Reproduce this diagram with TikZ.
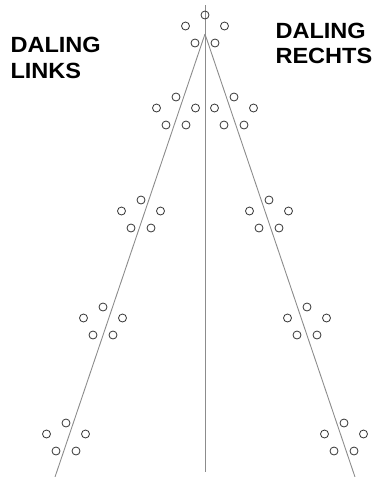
\documentclass[tikz,border=0pt]{standalone}
\usepackage{fontspec}
\setmainfont{Liberation Sans}
\begin{document}
\begin{tikzpicture}[x=1pt,y=-1pt,
  axisline/.style={draw=black!45,line width=0.9pt},
  ring/.style={circle,draw=black!80,line width=0.8pt,minimum size=8pt,inner sep=0pt},
  lbl/.style={anchor=base west,inner sep=0pt,xscale=1.07,font=\fontsize{22}{26}\selectfont\bfseries}]
\useasboundingbox (0,0) rectangle (373,477);
% axes
\coordinate (apex) at (205,34);
\coordinate (top) at (205,5);
\coordinate (bottom) at (205,472);
\coordinate (leftend) at (55,477);
\coordinate (rightend) at (355,477);
\draw[axisline] (top) -- (bottom);
\draw[axisline] (apex) -- (leftend);
\draw[axisline] (apex) -- (rightend);
% circle groups
\foreach \n/\cx/\cy in {g0/205/15, l1/176/97, r1/234/97, l2/141/200, r2/269/200, l3/103/307, r3/307/307, l4/66/423, r4/344/423}{
  \node[ring] (\n-t) at (\cx,\cy) {};
  \node[ring] (\n-ml) at (\cx-19.5,\cy+11) {};
  \node[ring] (\n-mr) at (\cx+19.5,\cy+11) {};
  \node[ring] (\n-bl) at (\cx-10,\cy+28) {};
  \node[ring] (\n-br) at (\cx+10,\cy+28) {};
}
% labels
\node[lbl] (dl1) at (10.3,52) {DALING};
\node[lbl] (dl2) at (10.3,78) {LINKS};
\node[lbl] (dr1) at (275.3,38) {DALING};
\node[lbl] (dr2) at (275.3,63.5) {RECHTS};
\end{tikzpicture}
\end{document}
